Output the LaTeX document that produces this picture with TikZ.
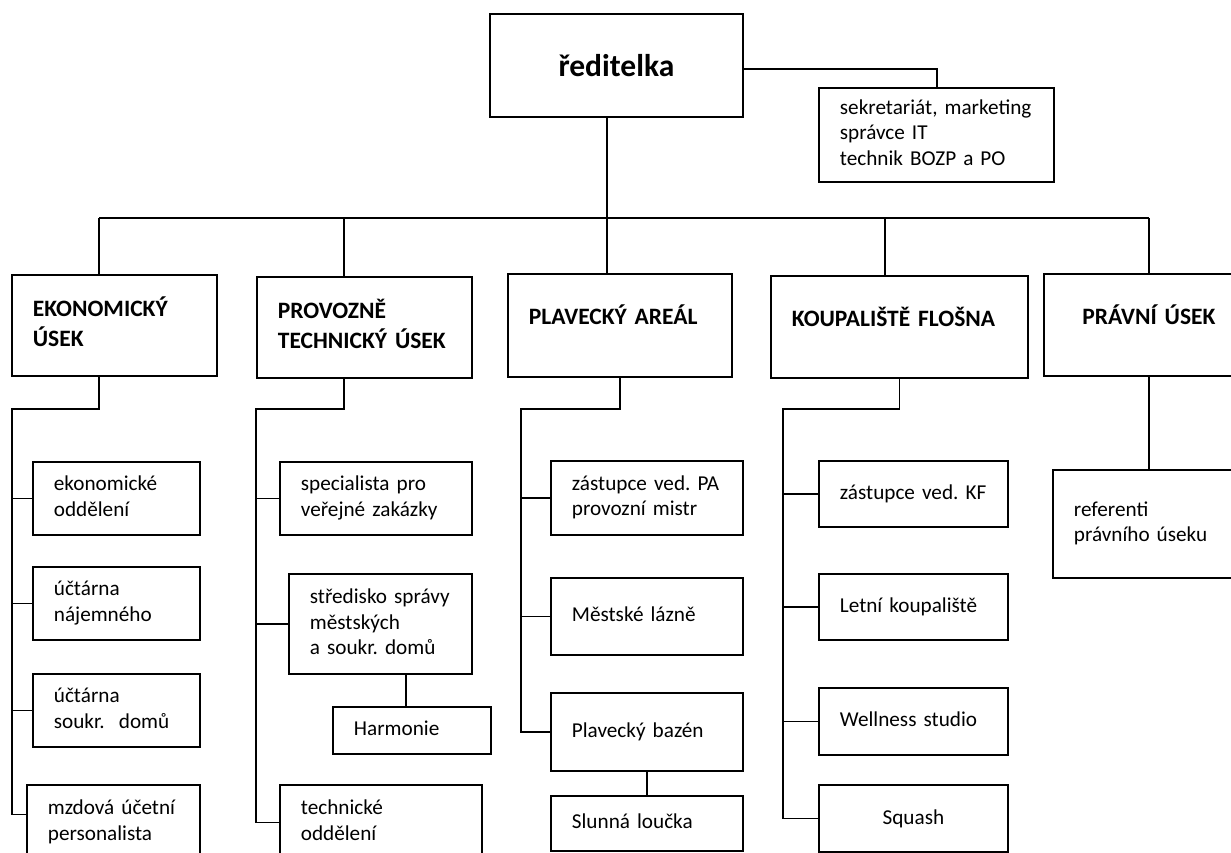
\documentclass[tikz,border=0pt]{standalone}
\usepackage{fontspec}
\setmainfont{Carlito}

\newcommand{\lns}[1]{\begin{tabular}{@{}l@{}}#1\end{tabular}}

\tikzset{
	box/.style 2 args={draw, line width=1.8pt, anchor=north west, inner xsep=21pt, inner ysep=0pt, align=left, text width={#1pt-42pt}, minimum height=#2pt, font=\fontsize{21.2}{25.5}\selectfont},
	head/.style 2 args={box={#1}{#2}, font=\fontsize{23.5}{29.5}\selectfont\bfseries},
	one/.style={text height=20pt, text depth=21pt},
	link/.style={line width=1.8pt},
}

\begin{document}
\frenchspacing
\begin{tikzpicture}[x=1pt,y=-1pt]
			\useasboundingbox (0,0) rectangle (1231,853);
			\clip (0,0) rectangle (1231,853);
			
			% Top
			\node[box={253}{103}, align=center, font=\fontsize{31.5}{38}\selectfont\bfseries] (dir) at (489,13) {ředitelka};
			\node[box={235}{94}] (sec) at (818,87) {\lns{sekretariát, marketing\\správce IT\\technik BOZP a PO}};
			\coordinate (secup) at (937,69);
			\draw[link] (dir.east |- secup) -- (secup) -- (secup |- sec.north);
			
			% Departments
			\node[head={205}{101}] (ekon) at (11,274) {\lns{EKONOMICKÝ\\ÚSEK}};
			\node[head={215}{101}] (prov) at (256,276) {\lns{PROVOZNĚ\\TECHNICKÝ ÚSEK}};
			\node[head={224}{103}, one] (plav) at (507,273) {\lns{PLAVECKÝ AREÁL}};
			\node[head={257}{102}, one] (kf) at (770,275) {\lns{KOUPALIŠTĚ FLOŠNA}};
			\node[head={210}{102}, one, align=center] (prav) at (1043,273) {PRÁVNÍ ÚSEK};
			
			\coordinate (trunk) at (607,218);
			\coordinate (ekonup) at (99,218);
			\coordinate (provup) at (344,218);
			\coordinate (kfup) at (885,218);
			\coordinate (pravup) at (1149,218);
			\draw[link] (ekonup) -- (pravup);
			\draw[link] (trunk |- dir.south) -- (trunk |- plav.north);
			\draw[link] (ekonup) -- (ekonup |- ekon.north);
			\draw[link] (provup) -- (provup |- prov.north);
			\draw[link] (kfup) -- (kfup |- kf.north);
			\draw[link] (pravup) -- (pravup |- prav.north);
			
			% Ekonomicky usek
			\node[box={167}{73}] (ekoodd) at (32,461) {\lns{ekonomické\\oddělení}};
			\node[box={167}{73}] (najem) at (32,566) {\lns{účtárna\\nájemného}};
			\node[box={167}{73}] (soukr) at (32,673) {\lns{účtárna\\soukr.\ \ domů}};
			\node[box={173}{75}] (mzdova) at (26,784) {\lns{mzdová účetní\\personalista}};
			\coordinate (ekondn) at (12,409);
			\draw[link] (ekonup |- ekon.south) -- (ekonup |- ekondn) -- (ekondn) |- ([yshift=8pt]mzdova.west);
			\foreach \n in {ekoodd,najem,soukr}
				\draw[link] (ekondn |- \n.west) -- (\n.west);
			
			% Provozne technicky usek
			\node[box={192}{73}] (spec) at (279,461) {\lns{specialista pro\\veřejné zakázky}};
			\node[box={183}{100}] (stred) at (288,573) {\lns{středisko správy\\městských\\a soukr. domů}};
			\node[box={158}{47}] (harm) at (332,706) {\lns{Harmonie}};
			\node[box={202}{75}] (tech) at (279,784) {\lns{technické\\oddělení}};
			\coordinate (provdn) at (256,409);
			\draw[link] (provup |- prov.south) -- (provup |- provdn) -- (provdn) |- (tech.west);
			\foreach \n in {spec,stred}
				\draw[link] (provdn |- \n.west) -- (\n.west);
			\draw[link] ([xshift=-6pt]harm.north) -- ([xshift=-6pt]harm.north |- stred.south);
			
			% Plavecky areal
			\node[box={192}{74}] (zastpa) at (550,460) {\lns{zástupce ved. PA\\provozní mistr}};
			\node[box={192}{77}] (mest) at (550,577) {\lns{Městské lázně}};
			\node[box={192}{78}] (bazen) at (550,692) {\lns{Plavecký bazén}};
			\node[box={192}{55}] (slunna) at (550,795) {\lns{Slunná loučka}};
			\coordinate (plavdn) at (521,409);
			\draw[link] (plav.south) |- (plavdn) |- (bazen.west);
			\foreach \n in {zastpa,mest}
				\draw[link] (plavdn |- \n.west) -- (\n.west);
			\draw[link] (bazen.south) -- (slunna.north);
			
			% Koupaliste
			\node[box={189}{66}] (zastkf) at (818,460) {\lns{zástupce ved. KF}};
			\node[box={189}{66}] (letni) at (818,573) {\lns{Letní koupaliště}};
			\node[box={189}{67}] (well) at (818,687) {\lns{Wellness studio}};
			\node[box={189}{67}, align=center] (squash) at (818,784) {Squash};
			\coordinate (kfdn) at (783,409);
			\draw[link] (kf.south) |- (kfdn) |- (squash.west);
			\foreach \n in {zastkf,letni,well}
				\draw[link] (kfdn |- \n.west) -- (\n.west);
			
			% Pravni usek
			\node[box={210}{108}] (ref) at (1052,469) {\lns{referenti\\právního úseku}};
			\draw[link] (pravup |- prav.south) -- (pravup |- ref.north);
\end{tikzpicture}
\end{document}
